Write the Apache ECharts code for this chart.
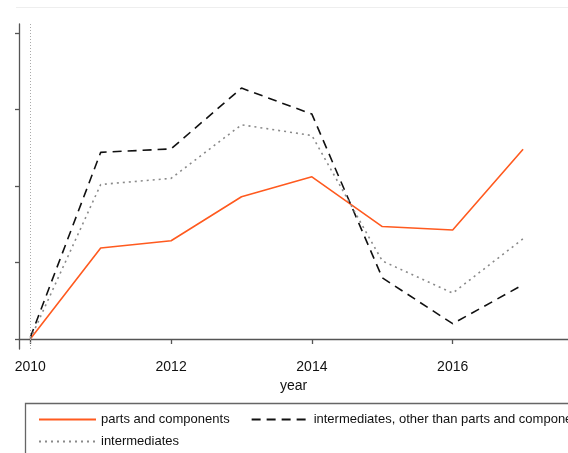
<!DOCTYPE html>
<html>
<head>
<meta charset="utf-8">
<script src="https://cdn.jsdelivr.net/npm/echarts@6/dist/echarts.min.js"></script>
<style>html,body{margin:0;padding:0;background:#fff;}#c{width:568px;height:453px;}</style>
</head>
<body>
<div id="c"></div>
<script>
var years = [2010, 2011, 2012, 2013, 2014, 2015, 2016, 2017];
var partsComponents = [0, 1.19, 1.285, 1.86, 2.12, 1.47, 1.425, 2.48];
var intermediatesOther = [0.02, 2.44, 2.485, 3.28, 2.94, 0.80, 0.20, 0.71];
var intermediates = [0, 2.02, 2.10, 2.80, 2.66, 1.02, 0.60, 1.31];
var xTicks = [2010, 2012, 2014, 2016];
var yTicks = [0, 1, 2, 3, 4];
var names = ['parts and components', 'intermediates, other than parts and components', 'intermediates'];

function pairs(v) { return years.map(function (y, i) { return [y, v[i]]; }); }

var font = 'Liberation Sans, Arial, sans-serif';
var legendCommon = {
  left: 33, width: 1200, itemWidth: 57, itemHeight: 12, itemGap: 21,
  itemStyle: { color: 'transparent', borderWidth: 0, opacity: 0 },
  textStyle: { color: '#111', fontSize: 13, fontFamily: font }
};
var chart = echarts.init(document.getElementById('c'));
chart.setOption({
  animation: false,
  backgroundColor: '#fff',
  grid: { left: 19, right: 0, top: 24, bottom: 104, containLabel: false },
  xAxis: {
    type: 'value', min: 2009.8395, max: 2017.638,
    splitLine: { show: false },
    axisLine: { show: true, lineStyle: { color: '#555', width: 1.3 } },
    axisTick: { show: true, customValues: xTicks, length: 5, lineStyle: { color: '#555', width: 1.3 } },
    axisLabel: { customValues: xTicks, color: '#111', fontSize: 14, fontFamily: font, margin: 11, formatter: function (v) { return String(v); } },
    name: 'year', nameLocation: 'middle', nameGap: 25,
    nameTextStyle: { color: '#111', fontSize: 14, fontFamily: font }
  },
  yAxis: {
    type: 'value', min: -0.1307, max: 4.1176,
    splitLine: { show: false },
    axisLine: { show: true, lineStyle: { color: '#555', width: 1.3 } },
    axisTick: { show: true, customValues: yTicks, length: 4, lineStyle: { color: '#555', width: 1.3 } },
    axisLabel: { show: false }
  },
  legend: [
    Object.assign({ data: [names[0], names[1]], top: 408 }, legendCommon),
    Object.assign({ data: [names[2]], top: 430 }, legendCommon)
  ],
  graphic: [
    { type: 'line', shape: { x1: 16, y1: 7.5, x2: 568, y2: 7.5 }, style: { stroke: '#eeeeee', lineWidth: 1 }, silent: true },
    { type: 'rect', shape: { x: 25.5, y: 403.5, width: 600, height: 80 }, style: { fill: 'none', stroke: '#666', lineWidth: 1.3 }, silent: true }
  ],
  series: [
    { name: names[0], type: 'line', data: pairs(partsComponents), symbol: 'none', color: '#ff5a1f',
      lineStyle: { color: '#ff5a1f', width: 1.6 },
      markLine: { silent: true, symbol: 'none', label: { show: false },
        lineStyle: { color: '#aaaaaa', type: [1, 2], width: 1 }, data: [{ xAxis: 2010 }] } },
    { name: names[1], type: 'line', data: pairs(intermediatesOther), symbol: 'none', color: '#111',
      lineStyle: { color: '#111', width: 1.6, type: [9, 6] } },
    { name: names[2], type: 'line', data: pairs(intermediates), symbol: 'none', color: '#888',
      lineStyle: { color: '#8a8a8a', width: 1.6, type: [2, 4] } }
  ]
});
</script>
</body>
</html>
